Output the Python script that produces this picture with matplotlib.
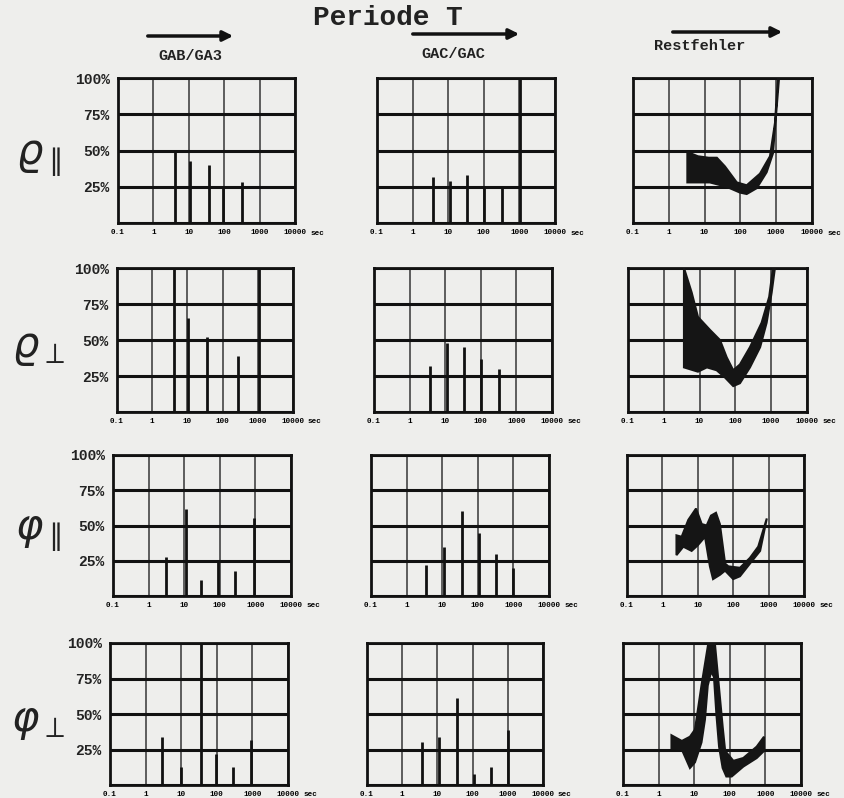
import numpy as np
import matplotlib.pyplot as plt

plt.rcParams['font.family'] = ['Liberation Mono', 'DejaVu Sans Mono']
plt.rcParams['mathtext.fontset'] = 'dejavusans'

W, H = 845, 798

# x axis (sec, log) and y axis (%)
x_ticks = [0.1, 1, 10, 100, 1000, 10000]
x_labels = ["0.1", "1", "10", "100", "1000", "10000"]
y_ticks = [0, 25, 50, 75, 100]
y_labels = ["", "25%", "50%", "75%", "100%"]

row_labels = [r"$\varrho_{\parallel}$", r"$\varrho_{\perp}$",
              r"$\varphi_{\parallel}$", r"$\varphi_{\perp}$"]
col_titles = ["GAB/GA3", "GAC/GAC", "Restfehler"]

# GAB/GA3 lines per row: period (sec), share (%)
gab_x = [[4.1, 10.5, 37, 93, 320],
         [4.3, 10.5, 35, 275, 1050],
         [3.0, 11, 29, 89, 270, 910],
         [2.9, 9.7, 36, 93, 290, 890]]
gab_h = [[50, 43, 40, 24, 28],
         [100, 65, 52, 39, 100],
         [28, 62, 11, 25, 18, 55],
         [34, 13, 100, 22, 13, 32]]

# GAC/GAC lines per row
gac_x = [[3.7, 11, 33, 100, 320, 1050],
         [3.7, 11, 33, 100, 330],
         [3.5, 11, 35, 110, 330, 1000],
         [3.6, 11, 37, 110, 330, 1030]]
gac_h = [[32, 29, 33, 25, 24, 100],
         [32, 48, 45, 37, 30],
         [22, 35, 60, 45, 30, 20],
         [30, 34, 61, 8, 13, 39]]

# Restfehler bands: upper and lower edge per row
rest_ux = [[3.3, 6.5, 13, 22, 37, 79, 150, 352, 670, 925, 1120],
           [3.66, 6.0, 9.0, 19.5, 37, 57, 87, 134, 255, 540, 880, 1120],
           [2.5, 3.5, 5.4, 8.9, 12.9, 17.8, 23.6, 32.6, 42, 59, 73, 155, 297, 510, 890],
           [2.3, 4.5, 7.6, 10.5, 16, 25, 38, 50, 63, 74, 126, 240, 570, 913]]
rest_uy = [[49, 46, 45, 45, 39, 28, 26, 34, 46, 69, 100],
           [100, 83, 66, 57, 50, 38, 29, 33, 45, 62, 80, 100],
           [43, 42, 54, 62, 51, 50, 57, 59, 51, 23, 21, 20, 27, 35, 55],
           [35, 31, 34, 39, 70, 100, 100, 68, 41, 24, 17, 19, 27, 34]]
rest_lx = [[3.3, 14, 41, 97, 150, 285, 540, 810, 1200],
           [3.66, 9.0, 16, 30, 51, 87, 134, 255, 490, 745, 1030, 1270],
           [2.5, 3.9, 6.7, 10, 16, 22, 27, 42, 59, 100, 155, 297, 575, 890],
           [2.3, 4.5, 7.6, 10.5, 16, 20, 24, 30, 36, 42, 50, 63, 80, 113, 240, 570, 913]]
rest_ly = [[28, 28, 25, 21, 20, 24, 35, 48, 100],
           [31, 28, 31, 29, 24, 18, 20, 31, 45, 62, 83, 100],
           [29, 35, 32, 36, 42, 21, 12, 15, 18, 12, 14, 23, 32, 55],
           [26, 25, 12, 16, 30, 46, 70, 80, 76, 50, 27, 12, 6, 6, 13, 19, 24]]

# panel boxes in pixels (left, right) per row/column, (top, bottom) per row
col_px = [[(118, 295), (377, 555), (633, 812)],
          [(117, 293), (374, 552), (628, 807)],
          [(113, 291), (371, 549), (627, 804)],
          [(110, 288), (367, 543), (623, 801)]]
row_px = [(78, 223), (268, 412), (455, 596), (643, 785)]

bg = '#eeeeec'
fig = plt.figure(figsize=(W / 100, H / 100), dpi=100, facecolor=bg)


def make_axes(r, c):
    (l, rr), (t, b) = col_px[r][c], row_px[r]
    ax = fig.add_axes([l / W, 1 - b / H, (rr - l) / W, (b - t) / H])
    ax.set_facecolor('none')
    ax.set_xscale('log')
    ax.set_xlim(0.1, 10000)
    ax.set_ylim(0, 100)
    ax.set_xticks(x_ticks)
    ax.set_xticklabels(x_labels, fontsize=5.5, fontweight='bold')
    ax.minorticks_off()
    ax.set_yticks(y_ticks)
    if c == 0:
        ax.set_yticklabels(y_labels, fontsize=10.5, fontweight='bold', color='#222')
    else:
        ax.set_yticklabels([])
    ax.tick_params(length=0, pad=4)
    ax.tick_params(axis='y', pad=6)
    ax.grid(axis='y', color='#111', lw=2.2)
    ax.grid(axis='x', color='#444', lw=1.2)
    for s in ax.spines.values():
        s.set_linewidth(2.0)
        s.set_color('#111')
    ax.text(1.085, -0.045, "sec", transform=ax.transAxes, fontsize=5.5,
            fontweight='bold', va='top', ha='left')
    return ax


for r in range(4):
    ax = make_axes(r, 0)
    ax.vlines(gab_x[r], 0, gab_h[r], color='#111', lw=2.0)
    ax = make_axes(r, 1)
    ax.vlines(gac_x[r], 0, gac_h[r], color='#111', lw=2.0)
    ax = make_axes(r, 2)
    px = list(rest_ux[r]) + list(rest_lx[r])[::-1]
    py = list(rest_uy[r]) + list(rest_ly[r])[::-1]
    ax.fill(px, py, color='#151515', lw=1.5, ec='#151515', zorder=3)

    (t, b) = row_px[r]
    fig.text(38 / W, 1 - ((t + b) / 2 + 8) / H, row_labels[r], fontsize=30,
             ha='center', va='center', color='#222')

# header
fig.text(388 / W, 1 - 18 / H, "Periode T", fontsize=20, fontweight='bold',
         ha='center', va='center', color='#222')
title_x = [190, 453, 700]
title_y = [56, 54, 46]
arrow_px = [(145, 236, 36), (410, 522, 34), (670, 785, 32)]
for i in range(3):
    fig.text(title_x[i] / W, 1 - title_y[i] / H, col_titles[i], fontsize=11,
             fontweight='bold', ha='center', va='center', color='#222')
    x0, x1, y = arrow_px[i]
    fig.patches.append(plt.matplotlib.patches.FancyArrowPatch(
        (x0 / W, 1 - y / H), (x1 / W, 1 - y / H), transform=fig.transFigure,
        arrowstyle='-|>,head_length=6,head_width=3', lw=2.5, color='#111',
        mutation_scale=1))

fig.savefig('out.png', dpi=100, facecolor=bg)
